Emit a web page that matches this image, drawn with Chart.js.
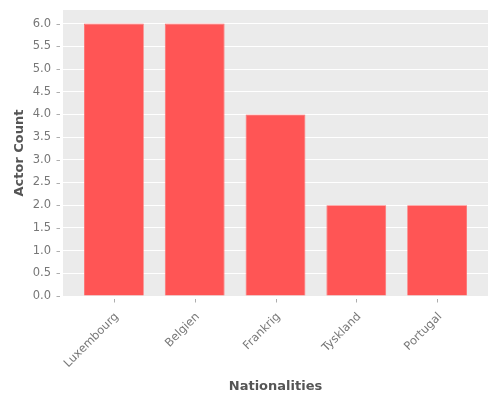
<!DOCTYPE html>
<html>
<head>
<meta charset="utf-8">
<script src="https://cdn.jsdelivr.net/npm/chart.js@4"></script>
<style>
  html, body { margin: 0; padding: 0; background: #fff; }
  #wrap { width: 500px; height: 400px; }
</style>
</head>
<body>
<div id="wrap"><canvas id="chart"></canvas></div>
<script>
// DATA
const nationalities = ["Luxembourg", "Belgien", "Frankrig", "Tyskland", "Portugal"];
const actorCounts = [6, 6, 4, 2, 2];
const yTicks = [0, 0.5, 1, 1.5, 2, 2.5, 3, 3.5, 4, 4.5, 5, 5.5, 6];

// grå baggrund bag plotområdet (ggplot-look)
const panelBg = {
  id: 'panelBg',
  beforeDraw(chart) {
    const a = chart.chartArea, ctx = chart.ctx;
    ctx.save();
    ctx.fillStyle = '#EBEBEB';
    ctx.fillRect(a.left, a.top, a.right - a.left, a.bottom - a.top);
    ctx.restore();
  }
};

// små tick-streger med lidt luft til panelet
const tickMarks = {
  id: 'tickMarks',
  afterDraw(chart) {
    const a = chart.chartArea, ctx = chart.ctx;
    const { x, y } = chart.scales;
    ctx.save();
    ctx.strokeStyle = '#999';
    ctx.lineWidth = 0.8;
    ctx.beginPath();
    x.ticks.forEach(t => {
      const px = Math.round(x.getPixelForValue(t.value)) + 0.5;
      ctx.moveTo(px, a.bottom + 3);
      ctx.lineTo(px, a.bottom + 6.5);
    });
    y.ticks.forEach(t => {
      const py = Math.round(y.getPixelForValue(t.value)) + 0.5;
      ctx.moveTo(a.left - 6.5, py);
      ctx.lineTo(a.left - 3, py);
    });
    ctx.stroke();
    ctx.restore();
  }
};

new Chart(document.getElementById('chart'), {
  type: 'bar',
  data: {
    datasets: [{
      data: actorCounts.map((v, i) => ({ x: i, y: v })),
      backgroundColor: '#FF5555',
      borderColor: '#FF6A6A',
      borderWidth: 0.8,
      categoryPercentage: 1,
      barPercentage: 0.74
    }]
  },
  plugins: [panelBg, tickMarks],
  options: {
    responsive: true,
    maintainAspectRatio: false,
    animation: false,
    layout: { padding: { top: 10, right: 12, left: 0, bottom: 0 } },
    plugins: { legend: { display: false }, tooltip: { enabled: false } },
    scales: {
      x: {
        type: 'linear',
        offset: false,
        min: -0.63,
        max: 4.63,
        afterBuildTicks: s => { s.ticks = nationalities.map((_, i) => ({ value: i })); },
        afterFit: s => { s.height = 104; s.paddingLeft = 0; s.paddingRight = 0; },
        grid: { offset: false, drawOnChartArea: false, tickColor: 'rgba(0,0,0,0)', tickLength: 7 },
        border: { display: false },
        ticks: {
          maxRotation: 45, minRotation: 45, padding: 7, labelOffset: 3,
          color: '#777', font: { family: 'DejaVu Sans', size: 11.5 },
          callback: v => nationalities[v]
        },
        title: {
          display: true, text: 'Nationalities', color: '#555',
          font: { family: 'DejaVu Sans', size: 13, weight: 'bold' },
          padding: { top: 4, bottom: 6 }
        }
      },
      y: {
        min: 0,
        max: 6.3,
        afterBuildTicks: s => { s.ticks = yTicks.map(v => ({ value: v })); },
        afterFit: s => { s.width = 63; s.paddingTop = 0; s.paddingBottom = 0; },
        grid: { color: '#fff', lineWidth: 1, tickColor: 'rgba(0,0,0,0)', tickLength: 7 },
        border: { display: false },
        ticks: {
          padding: 5, color: '#777', font: { family: 'DejaVu Sans', size: 11.5 },
          callback: v => v.toFixed(1)
        },
        title: {
          display: true, text: 'Actor Count', color: '#555',
          font: { family: 'DejaVu Sans', size: 13, weight: 'bold' },
          padding: { top: 12, bottom: 0 }
        }
      }
    }
  }
});
</script>
</body>
</html>
